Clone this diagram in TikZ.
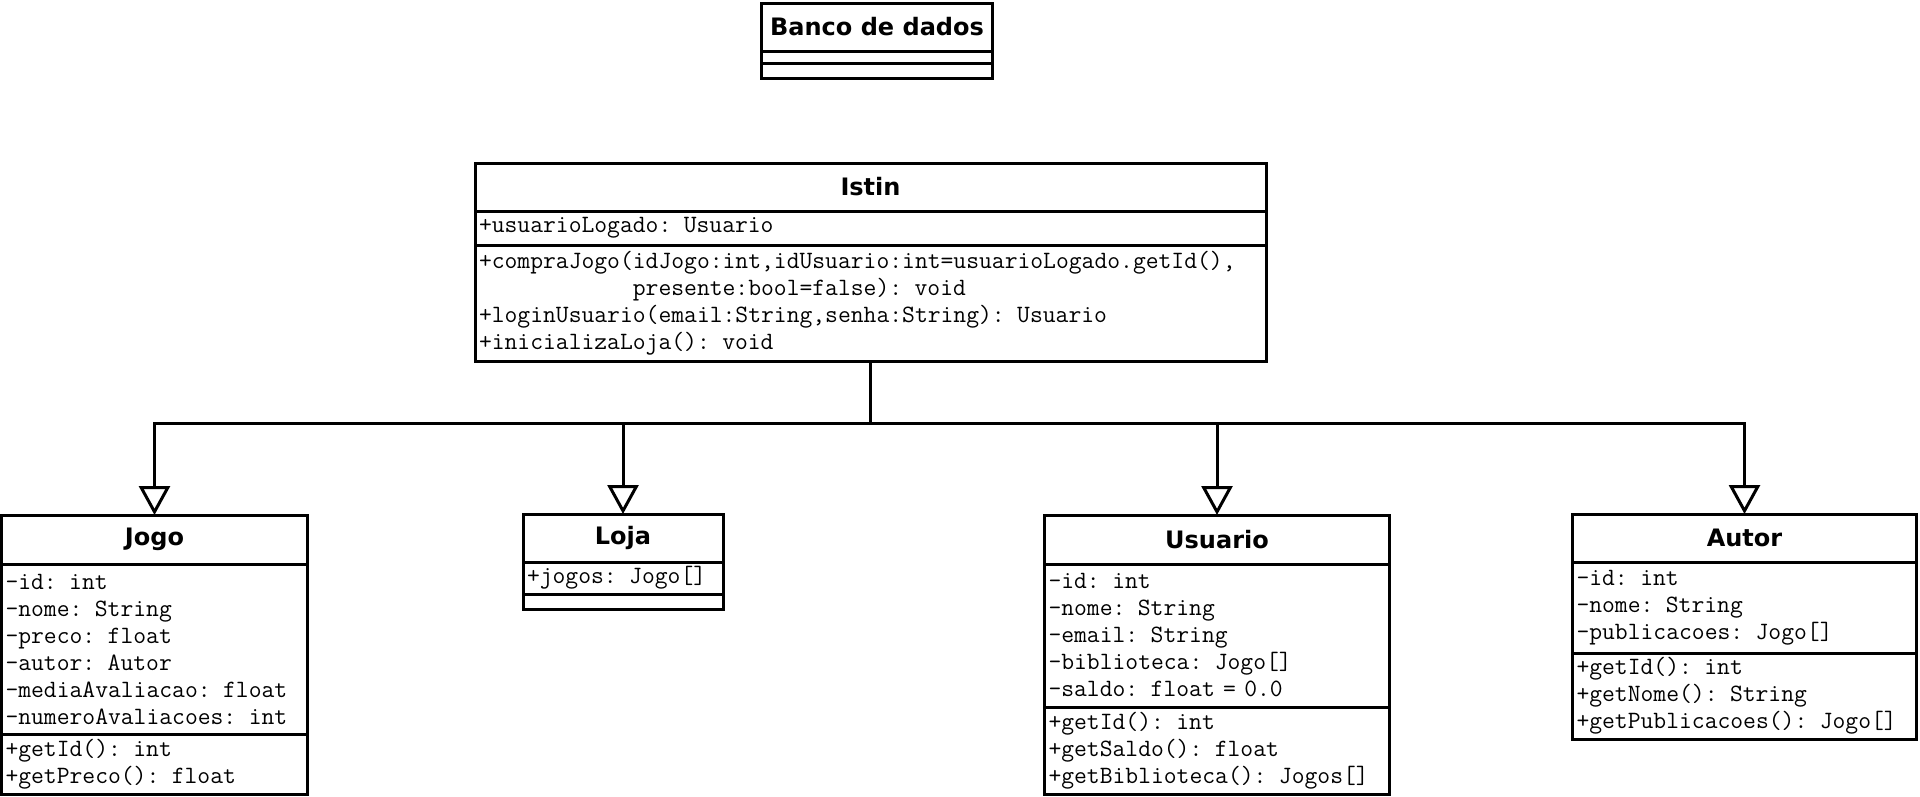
\documentclass[tikz,border=0pt]{standalone}
\usepackage{fontspec}
\newfontfamily\headfont{DejaVu Sans}
\usetikzlibrary{arrows.meta,positioning}

\begin{document}
\begin{tikzpicture}[x=1pt,y=-1pt,
    classhead/.style={draw,line width=3pt,outer sep=0pt,inner sep=0pt,
      minimum width=#1,minimum height=48pt,
      font=\headfont\bfseries\fontsize{24pt}{28pt}\selectfont},
    classpart/.style={draw,line width=3pt,outer sep=0pt,inner xsep=4pt,inner ysep=0pt,
      text width=#1,align=left,font=\ttfamily\fontsize{24.9pt}{27pt}\selectfont},
    gen/.style={line width=3pt,-{Triangle[open,width=31pt,length=29pt]}}]
  \useasboundingbox (0,0) rectangle (1920,796);

  % database
  \node[classhead=231pt,anchor=north west] (banco) at (761.5,3) {Banco de dados};
  \node[classpart=223pt,minimum height=12pt,below=0pt of banco] (banco-attr) {};
  \node[classpart=223pt,minimum height=15pt,below=0pt of banco-attr] (banco-ops) {};

  % main class
  \node[classhead=791pt,anchor=north west] (istin) at (475,163) {Istin};
  \node[classpart=783pt,minimum height=34pt,below=0pt of istin] (istin-attr)
    {+usuarioLogado: Usuario};
  \node[classpart=783pt,minimum height=116pt,below=0pt of istin-attr] (istin-ops)
    {+compraJogo(idJogo:int,idUsuario:int=usuarioLogado.getId(),\\
     \hphantom{+compraJogo(}presente:bool=false): void\\
     +loginUsuario(email:String,senha:String): Usuario\\
     +inicializaLoja(): void};

  % subclasses
  \node[classhead=306pt,anchor=north west,minimum height=49pt] (jogo) at (1.5,515) {Jogo};
  \node[classpart=298pt,minimum height=170pt,below=0pt of jogo] (jogo-attr)
    {-id: int\\ -nome: String\\ -preco: float\\ -autor: Autor\\
     -mediaAvaliacao: float\\ -numeroAvaliacoes: int};
  \node[classpart=298pt,minimum height=60pt,below=0pt of jogo-attr] (jogo-ops)
    {+getId(): int\\ +getPreco(): float};

  \node[classhead=200pt,anchor=north west] (loja) at (523,514) {Loja};
  \node[classpart=192pt,minimum height=32pt,below=0pt of loja] (loja-attr)
    {+jogos: Jogo[]};
  \node[classpart=192pt,minimum height=15pt,below=0pt of loja-attr] (loja-ops) {};

  \node[classhead=345pt,anchor=north west,minimum height=49pt] (usuario) at (1044.5,515) {Usuario};
  \node[classpart=337pt,minimum height=143pt,below=0pt of usuario] (usuario-attr)
    {-id: int\\ -nome: String\\ -email: String\\ -biblioteca: Jogo[]\\
     -saldo: float = 0.0};
  \node[classpart=337pt,minimum height=87pt,below=0pt of usuario-attr] (usuario-ops)
    {+getId(): int\\ +getSaldo(): float\\ +getBiblioteca(): Jogos[]};

  \node[classhead=344pt,anchor=north west] (autor) at (1572.5,514) {Autor};
  \node[classpart=336pt,minimum height=91pt,below=0pt of autor] (autor-attr)
    {-id: int\\ -nome: String\\ -publicacoes: Jogo[]};
  \node[classpart=336pt,minimum height=86pt,below=0pt of autor-attr] (autor-ops)
    {+getId(): int\\ +getNome(): String\\ +getPublicacoes(): Jogo[]};

  % generalisations
  \coordinate (bar) at (870.5,423.7);
  \foreach \cls in {jogo,loja,usuario,autor}
    \draw[gen] (istin-ops.south) -- (bar) -| (\cls.north);
\end{tikzpicture}
\end{document}
